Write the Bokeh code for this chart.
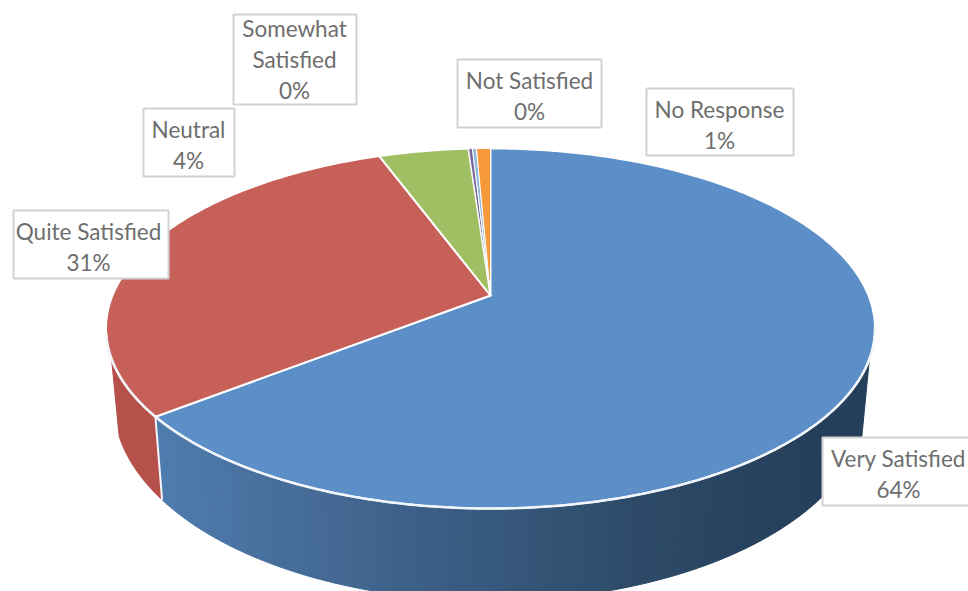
import numpy as np
from bokeh.plotting import figure
from bokeh.models import Range1d
from bokeh.core.properties import value
from bokeh.embed import file_html
from bokeh.resources import INLINE

categories = ["Very Satisfied", "Quite Satisfied", "Neutral", "Somewhat Satisfied", "Not Satisfied", "No Response"]
shares = [64.4, 30.0, 4.5, 0.2, 0.2, 0.7]
percent_labels = ["64%", "31%", "4%", "0%", "0%", "1%"]
top_colors = ["#5c8fc8", "#c8605a", "#a0bf63", "#7a6a9c", "#8fb8d8", "#f79a3c"]

# label layout
label_lines = [["Very Satisfied"], ["Quite Satisfied"], ["Neutral"], ["Somewhat", "Satisfied"], ["Not Satisfied"], ["No Response"]]
box_left = [822, 13, 143, 233, 457, 646]
box_right = [975, 168, 234, 356, 601, 793]
box_top = [437, 210, 108, 14, 59, 88]
box_bottom = [505, 278, 176, 104, 127, 155]
text_mid = [898, 88, 188, 294, 529, 719]

# projection of the tilted disc
cx, cy = 490, 295
A, B, k = 378, 174, 0.183
sx, sy, dy = 0.98, 1.10, 71


def top_rim(t):
    u, v = np.sin(t), np.cos(t)
    d = 1 + k * v
    return A * u / d, B * v / d


def to_top(t):
    X, Y = top_rim(t)
    return cx + X, cy - Y


def to_bottom(t):
    X, Y = top_rim(t)
    return cx + sx * X, cy - Y * sy + dy


def lerp_hex(stops, f):
    pos = np.linspace(0, 1, len(stops))
    rgb = [[int(s[i:i + 2], 16) for s in stops] for i in (1, 3, 5)]
    return "#%02x%02x%02x" % tuple(int(np.interp(f, pos, c)) for c in rgb)


p = figure(width=968, height=591, output_backend="svg", toolbar_location=None,
           x_range=Range1d(0, 968), y_range=Range1d(591, 0), min_border=0,
           background_fill_color="white", border_fill_color="white")
p.axis.visible = False
p.grid.visible = False
p.outline_line_color = None

edges = np.radians(np.concatenate([[0], np.cumsum(shares)]) * 3.6)

# side wall
wall_start, wall_end = np.radians(110), np.radians(250)
blue_stops = ["#4f7cae", "#466c98", "#3b5d84", "#30506f", "#294460", "#253e5a"]
ts = np.linspace(wall_start, edges[1], 90)
for a, b in zip(ts[:-1], ts[1:]):
    xa, ya = to_top(a); xb, yb = to_top(b)
    xc, yc = to_bottom(b); xd, yd = to_bottom(a)
    f = (0.5 * (xa + xb) - 160) / (870 - 160)
    col = lerp_hex(blue_stops, f)
    p.patch([xa, xb, xc, xd], [ya, yb, yc, yd], fill_color=col, line_color=col, line_width=1)
tr = np.linspace(edges[1], wall_end, 30)
xt, yt = to_top(tr); xb_, yb_ = to_bottom(tr)
p.patch(np.r_[xt, xb_[::-1]], np.r_[yt, yb_[::-1]], fill_color="#b5504a", line_color="#b5504a")
xs0, ys0 = to_top(edges[1]); xs1, ys1 = to_bottom(edges[1])
p.line([xs0, xs1], [ys0, ys1], line_color="#f4f6fa", line_width=2)

# top face
for i, col in enumerate(top_colors):
    t = np.linspace(edges[i], edges[i + 1], max(3, int(shares[i] * 4)))
    x, y = to_top(t)
    p.patch(np.r_[cx, x], np.r_[cy, y], fill_color=col, line_color="white",
            line_width=1.0 if shares[i] < 1 else 2.0, line_join="round")
# bright rim along the visible front edge
rim = np.linspace(np.radians(100), np.radians(258), 160)
rx, ry = to_top(rim)
p.line(rx, ry, line_color="#f2f6fb", line_width=2.5)

# labels
p.quad(left=box_left, right=box_right, top=box_top, bottom=box_bottom,
       fill_color="white", line_color="#d2d2d2", line_width=2)
lx, ly, ls = [], [], []
for i, lines in enumerate(label_lines):
    rows = lines + [percent_labels[i]]
    ctr = 0.5 * (box_top[i] + box_bottom[i])
    nudge = 2.5 if len(rows) == 2 else 0
    for j, r in enumerate(rows):
        lx.append(text_mid[i])
        ly.append(ctr + nudge + (j - (len(rows) - 1) / 2) * 31)
        ls.append(r)
p.text(lx, ly, text=ls, text_font=value("Lato"), text_font_size="22.5px",
       text_color="#6e6e6e", text_align="center", text_baseline="middle")

open("out.html", "w").write(file_html(p, INLINE))
